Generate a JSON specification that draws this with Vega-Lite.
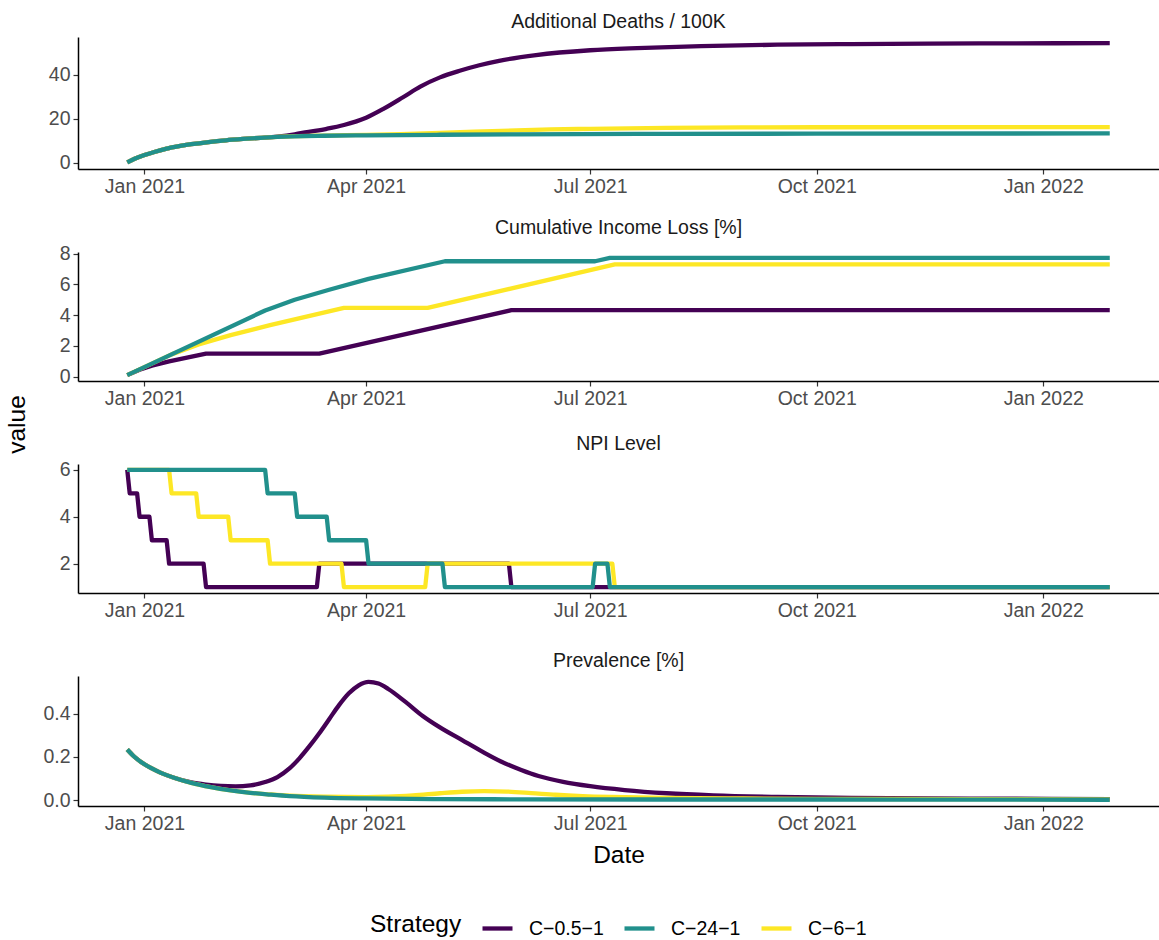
{
  "$schema": "https://vega.github.io/schema/vega-lite/v6.json",
  "padding": {"left": 4, "top": 11, "right": 0, "bottom": 0},
  "datasets": {
    "d": [
      {"metric":"deaths","strategy":"C−0.5−1","date":"2020-12-25","value":0.3},
      {"metric":"deaths","strategy":"C−0.5−1","date":"2020-12-28","value":1.9},
      {"metric":"deaths","strategy":"C−0.5−1","date":"2021-01-01","value":3.6},
      {"metric":"deaths","strategy":"C−0.5−1","date":"2021-01-05","value":5.0},
      {"metric":"deaths","strategy":"C−0.5−1","date":"2021-01-10","value":6.5},
      {"metric":"deaths","strategy":"C−0.5−1","date":"2021-01-15","value":7.6},
      {"metric":"deaths","strategy":"C−0.5−1","date":"2021-01-20","value":8.5},
      {"metric":"deaths","strategy":"C−0.5−1","date":"2021-01-27","value":9.5},
      {"metric":"deaths","strategy":"C−0.5−1","date":"2021-02-03","value":10.3},
      {"metric":"deaths","strategy":"C−0.5−1","date":"2021-02-10","value":10.9},
      {"metric":"deaths","strategy":"C−0.5−1","date":"2021-02-17","value":11.4},
      {"metric":"deaths","strategy":"C−0.5−1","date":"2021-02-24","value":12.0},
      {"metric":"deaths","strategy":"C−0.5−1","date":"2021-03-03","value":13.0},
      {"metric":"deaths","strategy":"C−0.5−1","date":"2021-03-08","value":14.0},
      {"metric":"deaths","strategy":"C−0.5−1","date":"2021-03-16","value":15.5},
      {"metric":"deaths","strategy":"C−0.5−1","date":"2021-03-23","value":17.2},
      {"metric":"deaths","strategy":"C−0.5−1","date":"2021-04-01","value":20.5},
      {"metric":"deaths","strategy":"C−0.5−1","date":"2021-04-08","value":24.5},
      {"metric":"deaths","strategy":"C−0.5−1","date":"2021-04-16","value":29.8},
      {"metric":"deaths","strategy":"C−0.5−1","date":"2021-04-23","value":34.6},
      {"metric":"deaths","strategy":"C−0.5−1","date":"2021-05-01","value":38.8},
      {"metric":"deaths","strategy":"C−0.5−1","date":"2021-05-09","value":41.8},
      {"metric":"deaths","strategy":"C−0.5−1","date":"2021-05-17","value":44.3},
      {"metric":"deaths","strategy":"C−0.5−1","date":"2021-05-25","value":46.3},
      {"metric":"deaths","strategy":"C−0.5−1","date":"2021-06-09","value":48.9},
      {"metric":"deaths","strategy":"C−0.5−1","date":"2021-07-01","value":51.1},
      {"metric":"deaths","strategy":"C−0.5−1","date":"2021-07-20","value":52.1},
      {"metric":"deaths","strategy":"C−0.5−1","date":"2021-08-15","value":53.0},
      {"metric":"deaths","strategy":"C−0.5−1","date":"2021-09-15","value":53.6},
      {"metric":"deaths","strategy":"C−0.5−1","date":"2021-10-15","value":53.9},
      {"metric":"deaths","strategy":"C−0.5−1","date":"2021-11-15","value":54.1},
      {"metric":"deaths","strategy":"C−0.5−1","date":"2021-12-15","value":54.2},
      {"metric":"deaths","strategy":"C−0.5−1","date":"2022-01-28","value":54.3},

      {"metric":"deaths","strategy":"C−24−1","date":"2020-12-25","value":0.3},
      {"metric":"deaths","strategy":"C−24−1","date":"2020-12-28","value":1.9},
      {"metric":"deaths","strategy":"C−24−1","date":"2021-01-01","value":3.6},
      {"metric":"deaths","strategy":"C−24−1","date":"2021-01-05","value":5.0},
      {"metric":"deaths","strategy":"C−24−1","date":"2021-01-10","value":6.5},
      {"metric":"deaths","strategy":"C−24−1","date":"2021-01-15","value":7.6},
      {"metric":"deaths","strategy":"C−24−1","date":"2021-01-20","value":8.5},
      {"metric":"deaths","strategy":"C−24−1","date":"2021-01-27","value":9.5},
      {"metric":"deaths","strategy":"C−24−1","date":"2021-02-03","value":10.3},
      {"metric":"deaths","strategy":"C−24−1","date":"2021-02-10","value":10.9},
      {"metric":"deaths","strategy":"C−24−1","date":"2021-02-17","value":11.4},
      {"metric":"deaths","strategy":"C−24−1","date":"2021-02-24","value":11.8},
      {"metric":"deaths","strategy":"C−24−1","date":"2021-03-03","value":12.1},
      {"metric":"deaths","strategy":"C−24−1","date":"2021-03-15","value":12.35},
      {"metric":"deaths","strategy":"C−24−1","date":"2021-04-01","value":12.55},
      {"metric":"deaths","strategy":"C−24−1","date":"2021-05-01","value":12.8},
      {"metric":"deaths","strategy":"C−24−1","date":"2021-06-01","value":13.0},
      {"metric":"deaths","strategy":"C−24−1","date":"2021-08-01","value":13.2},
      {"metric":"deaths","strategy":"C−24−1","date":"2021-10-01","value":13.3},
      {"metric":"deaths","strategy":"C−24−1","date":"2022-01-28","value":13.4},

      {"metric":"deaths","strategy":"C−6−1","date":"2020-12-25","value":0.3},
      {"metric":"deaths","strategy":"C−6−1","date":"2020-12-28","value":1.9},
      {"metric":"deaths","strategy":"C−6−1","date":"2021-01-01","value":3.6},
      {"metric":"deaths","strategy":"C−6−1","date":"2021-01-05","value":5.0},
      {"metric":"deaths","strategy":"C−6−1","date":"2021-01-10","value":6.5},
      {"metric":"deaths","strategy":"C−6−1","date":"2021-01-15","value":7.6},
      {"metric":"deaths","strategy":"C−6−1","date":"2021-01-20","value":8.5},
      {"metric":"deaths","strategy":"C−6−1","date":"2021-01-27","value":9.5},
      {"metric":"deaths","strategy":"C−6−1","date":"2021-02-03","value":10.3},
      {"metric":"deaths","strategy":"C−6−1","date":"2021-02-10","value":10.9},
      {"metric":"deaths","strategy":"C−6−1","date":"2021-02-17","value":11.4},
      {"metric":"deaths","strategy":"C−6−1","date":"2021-02-24","value":11.8},
      {"metric":"deaths","strategy":"C−6−1","date":"2021-03-03","value":12.15},
      {"metric":"deaths","strategy":"C−6−1","date":"2021-03-15","value":12.45},
      {"metric":"deaths","strategy":"C−6−1","date":"2021-04-01","value":12.75},
      {"metric":"deaths","strategy":"C−6−1","date":"2021-04-15","value":13.1},
      {"metric":"deaths","strategy":"C−6−1","date":"2021-05-01","value":13.6},
      {"metric":"deaths","strategy":"C−6−1","date":"2021-05-15","value":14.2},
      {"metric":"deaths","strategy":"C−6−1","date":"2021-06-01","value":14.8},
      {"metric":"deaths","strategy":"C−6−1","date":"2021-06-15","value":15.2},
      {"metric":"deaths","strategy":"C−6−1","date":"2021-07-01","value":15.5},
      {"metric":"deaths","strategy":"C−6−1","date":"2021-08-01","value":15.9},
      {"metric":"deaths","strategy":"C−6−1","date":"2021-09-01","value":16.1},
      {"metric":"deaths","strategy":"C−6−1","date":"2021-10-01","value":16.2},
      {"metric":"deaths","strategy":"C−6−1","date":"2022-01-28","value":16.3},

      {"metric":"income","strategy":"C−0.5−1","date":"2020-12-25","value":0.1},
      {"metric":"income","strategy":"C−0.5−1","date":"2020-12-30","value":0.45},
      {"metric":"income","strategy":"C−0.5−1","date":"2021-01-04","value":0.72},
      {"metric":"income","strategy":"C−0.5−1","date":"2021-01-11","value":1.0},
      {"metric":"income","strategy":"C−0.5−1","date":"2021-01-26","value":1.5},
      {"metric":"income","strategy":"C−0.5−1","date":"2021-03-13","value":1.5},
      {"metric":"income","strategy":"C−0.5−1","date":"2021-05-30","value":4.32},
      {"metric":"income","strategy":"C−0.5−1","date":"2022-01-28","value":4.32},

      {"metric":"income","strategy":"C−24−1","date":"2020-12-25","value":0.1},
      {"metric":"income","strategy":"C−24−1","date":"2021-02-19","value":4.3},
      {"metric":"income","strategy":"C−24−1","date":"2021-03-03","value":5.0},
      {"metric":"income","strategy":"C−24−1","date":"2021-03-17","value":5.65},
      {"metric":"income","strategy":"C−24−1","date":"2021-04-02","value":6.35},
      {"metric":"income","strategy":"C−24−1","date":"2021-05-03","value":7.5},
      {"metric":"income","strategy":"C−24−1","date":"2021-07-03","value":7.5},
      {"metric":"income","strategy":"C−24−1","date":"2021-07-09","value":7.72},
      {"metric":"income","strategy":"C−24−1","date":"2022-01-28","value":7.72},

      {"metric":"income","strategy":"C−6−1","date":"2020-12-25","value":0.1},
      {"metric":"income","strategy":"C−6−1","date":"2021-01-12","value":1.45},
      {"metric":"income","strategy":"C−6−1","date":"2021-01-23","value":2.1},
      {"metric":"income","strategy":"C−6−1","date":"2021-02-05","value":2.7},
      {"metric":"income","strategy":"C−6−1","date":"2021-02-21","value":3.35},
      {"metric":"income","strategy":"C−6−1","date":"2021-03-23","value":4.47},
      {"metric":"income","strategy":"C−6−1","date":"2021-04-26","value":4.47},
      {"metric":"income","strategy":"C−6−1","date":"2021-07-11","value":7.3},
      {"metric":"income","strategy":"C−6−1","date":"2022-01-28","value":7.3},

      {"metric":"npi","strategy":"C−0.5−1","date":"2020-12-25","value":6},
      {"metric":"npi","strategy":"C−0.5−1","date":"2020-12-26","value":5},
      {"metric":"npi","strategy":"C−0.5−1","date":"2020-12-29","value":5},
      {"metric":"npi","strategy":"C−0.5−1","date":"2020-12-30","value":4},
      {"metric":"npi","strategy":"C−0.5−1","date":"2021-01-03","value":4},
      {"metric":"npi","strategy":"C−0.5−1","date":"2021-01-04","value":3},
      {"metric":"npi","strategy":"C−0.5−1","date":"2021-01-10","value":3},
      {"metric":"npi","strategy":"C−0.5−1","date":"2021-01-11","value":2},
      {"metric":"npi","strategy":"C−0.5−1","date":"2021-01-25","value":2},
      {"metric":"npi","strategy":"C−0.5−1","date":"2021-01-26","value":1},
      {"metric":"npi","strategy":"C−0.5−1","date":"2021-03-12","value":1},
      {"metric":"npi","strategy":"C−0.5−1","date":"2021-03-13","value":2},
      {"metric":"npi","strategy":"C−0.5−1","date":"2021-05-29","value":2},
      {"metric":"npi","strategy":"C−0.5−1","date":"2021-05-30","value":1},
      {"metric":"npi","strategy":"C−0.5−1","date":"2022-01-28","value":1},

      {"metric":"npi","strategy":"C−24−1","date":"2020-12-25","value":6},
      {"metric":"npi","strategy":"C−24−1","date":"2021-02-19","value":6},
      {"metric":"npi","strategy":"C−24−1","date":"2021-02-20","value":5},
      {"metric":"npi","strategy":"C−24−1","date":"2021-03-03","value":5},
      {"metric":"npi","strategy":"C−24−1","date":"2021-03-04","value":4},
      {"metric":"npi","strategy":"C−24−1","date":"2021-03-16","value":4},
      {"metric":"npi","strategy":"C−24−1","date":"2021-03-17","value":3},
      {"metric":"npi","strategy":"C−24−1","date":"2021-04-01","value":3},
      {"metric":"npi","strategy":"C−24−1","date":"2021-04-02","value":2},
      {"metric":"npi","strategy":"C−24−1","date":"2021-05-02","value":2},
      {"metric":"npi","strategy":"C−24−1","date":"2021-05-03","value":1},
      {"metric":"npi","strategy":"C−24−1","date":"2021-07-02","value":1},
      {"metric":"npi","strategy":"C−24−1","date":"2021-07-03","value":2},
      {"metric":"npi","strategy":"C−24−1","date":"2021-07-08","value":2},
      {"metric":"npi","strategy":"C−24−1","date":"2021-07-09","value":1},
      {"metric":"npi","strategy":"C−24−1","date":"2022-01-28","value":1},

      {"metric":"npi","strategy":"C−6−1","date":"2020-12-25","value":6},
      {"metric":"npi","strategy":"C−6−1","date":"2021-01-11","value":6},
      {"metric":"npi","strategy":"C−6−1","date":"2021-01-12","value":5},
      {"metric":"npi","strategy":"C−6−1","date":"2021-01-22","value":5},
      {"metric":"npi","strategy":"C−6−1","date":"2021-01-23","value":4},
      {"metric":"npi","strategy":"C−6−1","date":"2021-02-04","value":4},
      {"metric":"npi","strategy":"C−6−1","date":"2021-02-05","value":3},
      {"metric":"npi","strategy":"C−6−1","date":"2021-02-20","value":3},
      {"metric":"npi","strategy":"C−6−1","date":"2021-02-21","value":2},
      {"metric":"npi","strategy":"C−6−1","date":"2021-03-22","value":2},
      {"metric":"npi","strategy":"C−6−1","date":"2021-03-23","value":1},
      {"metric":"npi","strategy":"C−6−1","date":"2021-04-25","value":1},
      {"metric":"npi","strategy":"C−6−1","date":"2021-04-26","value":2},
      {"metric":"npi","strategy":"C−6−1","date":"2021-07-10","value":2},
      {"metric":"npi","strategy":"C−6−1","date":"2021-07-11","value":1},
      {"metric":"npi","strategy":"C−6−1","date":"2022-01-28","value":1},

      {"metric":"prev","strategy":"C−0.5−1","date":"2020-12-25","value":0.235},
      {"metric":"prev","strategy":"C−0.5−1","date":"2020-12-28","value":0.2},
      {"metric":"prev","strategy":"C−0.5−1","date":"2021-01-01","value":0.166},
      {"metric":"prev","strategy":"C−0.5−1","date":"2021-01-07","value":0.13},
      {"metric":"prev","strategy":"C−0.5−1","date":"2021-01-13","value":0.104},
      {"metric":"prev","strategy":"C−0.5−1","date":"2021-01-20","value":0.082},
      {"metric":"prev","strategy":"C−0.5−1","date":"2021-01-26","value":0.072},
      {"metric":"prev","strategy":"C−0.5−1","date":"2021-02-01","value":0.066},
      {"metric":"prev","strategy":"C−0.5−1","date":"2021-02-07","value":0.064},
      {"metric":"prev","strategy":"C−0.5−1","date":"2021-02-13","value":0.068},
      {"metric":"prev","strategy":"C−0.5−1","date":"2021-02-19","value":0.084},
      {"metric":"prev","strategy":"C−0.5−1","date":"2021-02-24","value":0.107},
      {"metric":"prev","strategy":"C−0.5−1","date":"2021-03-01","value":0.148},
      {"metric":"prev","strategy":"C−0.5−1","date":"2021-03-05","value":0.195},
      {"metric":"prev","strategy":"C−0.5−1","date":"2021-03-09","value":0.25},
      {"metric":"prev","strategy":"C−0.5−1","date":"2021-03-13","value":0.31},
      {"metric":"prev","strategy":"C−0.5−1","date":"2021-03-17","value":0.375},
      {"metric":"prev","strategy":"C−0.5−1","date":"2021-03-21","value":0.44},
      {"metric":"prev","strategy":"C−0.5−1","date":"2021-03-25","value":0.495},
      {"metric":"prev","strategy":"C−0.5−1","date":"2021-03-29","value":0.532},
      {"metric":"prev","strategy":"C−0.5−1","date":"2021-04-02","value":0.548},
      {"metric":"prev","strategy":"C−0.5−1","date":"2021-04-06","value":0.54},
      {"metric":"prev","strategy":"C−0.5−1","date":"2021-04-10","value":0.515},
      {"metric":"prev","strategy":"C−0.5−1","date":"2021-04-17","value":0.455},
      {"metric":"prev","strategy":"C−0.5−1","date":"2021-04-24","value":0.39},
      {"metric":"prev","strategy":"C−0.5−1","date":"2021-05-01","value":0.337},
      {"metric":"prev","strategy":"C−0.5−1","date":"2021-05-10","value":0.278},
      {"metric":"prev","strategy":"C−0.5−1","date":"2021-05-18","value":0.226},
      {"metric":"prev","strategy":"C−0.5−1","date":"2021-05-26","value":0.178},
      {"metric":"prev","strategy":"C−0.5−1","date":"2021-06-03","value":0.14},
      {"metric":"prev","strategy":"C−0.5−1","date":"2021-06-10","value":0.112},
      {"metric":"prev","strategy":"C−0.5−1","date":"2021-06-20","value":0.085},
      {"metric":"prev","strategy":"C−0.5−1","date":"2021-07-01","value":0.065},
      {"metric":"prev","strategy":"C−0.5−1","date":"2021-07-15","value":0.047},
      {"metric":"prev","strategy":"C−0.5−1","date":"2021-08-01","value":0.032},
      {"metric":"prev","strategy":"C−0.5−1","date":"2021-08-20","value":0.022},
      {"metric":"prev","strategy":"C−0.5−1","date":"2021-09-15","value":0.015},
      {"metric":"prev","strategy":"C−0.5−1","date":"2021-10-15","value":0.011},
      {"metric":"prev","strategy":"C−0.5−1","date":"2021-11-15","value":0.008},
      {"metric":"prev","strategy":"C−0.5−1","date":"2021-12-15","value":0.007},
      {"metric":"prev","strategy":"C−0.5−1","date":"2022-01-28","value":0.005},

      {"metric":"prev","strategy":"C−24−1","date":"2020-12-25","value":0.235},
      {"metric":"prev","strategy":"C−24−1","date":"2020-12-28","value":0.2},
      {"metric":"prev","strategy":"C−24−1","date":"2021-01-01","value":0.166},
      {"metric":"prev","strategy":"C−24−1","date":"2021-01-07","value":0.13},
      {"metric":"prev","strategy":"C−24−1","date":"2021-01-13","value":0.104},
      {"metric":"prev","strategy":"C−24−1","date":"2021-01-20","value":0.08},
      {"metric":"prev","strategy":"C−24−1","date":"2021-01-28","value":0.06},
      {"metric":"prev","strategy":"C−24−1","date":"2021-02-05","value":0.045},
      {"metric":"prev","strategy":"C−24−1","date":"2021-02-13","value":0.034},
      {"metric":"prev","strategy":"C−24−1","date":"2021-02-21","value":0.026},
      {"metric":"prev","strategy":"C−24−1","date":"2021-03-01","value":0.019},
      {"metric":"prev","strategy":"C−24−1","date":"2021-03-15","value":0.012},
      {"metric":"prev","strategy":"C−24−1","date":"2021-04-01","value":0.008},
      {"metric":"prev","strategy":"C−24−1","date":"2021-05-01","value":0.005},
      {"metric":"prev","strategy":"C−24−1","date":"2021-06-01","value":0.004},
      {"metric":"prev","strategy":"C−24−1","date":"2021-08-01","value":0.003},
      {"metric":"prev","strategy":"C−24−1","date":"2021-10-01","value":0.003},
      {"metric":"prev","strategy":"C−24−1","date":"2022-01-28","value":0.002},

      {"metric":"prev","strategy":"C−6−1","date":"2020-12-25","value":0.235},
      {"metric":"prev","strategy":"C−6−1","date":"2020-12-28","value":0.2},
      {"metric":"prev","strategy":"C−6−1","date":"2021-01-01","value":0.166},
      {"metric":"prev","strategy":"C−6−1","date":"2021-01-07","value":0.13},
      {"metric":"prev","strategy":"C−6−1","date":"2021-01-13","value":0.104},
      {"metric":"prev","strategy":"C−6−1","date":"2021-01-20","value":0.08},
      {"metric":"prev","strategy":"C−6−1","date":"2021-01-28","value":0.06},
      {"metric":"prev","strategy":"C−6−1","date":"2021-02-05","value":0.045},
      {"metric":"prev","strategy":"C−6−1","date":"2021-02-13","value":0.034},
      {"metric":"prev","strategy":"C−6−1","date":"2021-02-21","value":0.027},
      {"metric":"prev","strategy":"C−6−1","date":"2021-03-01","value":0.021},
      {"metric":"prev","strategy":"C−6−1","date":"2021-03-15","value":0.016},
      {"metric":"prev","strategy":"C−6−1","date":"2021-04-01","value":0.014},
      {"metric":"prev","strategy":"C−6−1","date":"2021-04-10","value":0.016},
      {"metric":"prev","strategy":"C−6−1","date":"2021-04-20","value":0.022},
      {"metric":"prev","strategy":"C−6−1","date":"2021-05-01","value":0.032},
      {"metric":"prev","strategy":"C−6−1","date":"2021-05-10","value":0.039},
      {"metric":"prev","strategy":"C−6−1","date":"2021-05-19","value":0.042},
      {"metric":"prev","strategy":"C−6−1","date":"2021-05-28","value":0.04},
      {"metric":"prev","strategy":"C−6−1","date":"2021-06-07","value":0.033},
      {"metric":"prev","strategy":"C−6−1","date":"2021-06-17","value":0.025},
      {"metric":"prev","strategy":"C−6−1","date":"2021-06-28","value":0.019},
      {"metric":"prev","strategy":"C−6−1","date":"2021-07-10","value":0.015},
      {"metric":"prev","strategy":"C−6−1","date":"2021-08-01","value":0.011},
      {"metric":"prev","strategy":"C−6−1","date":"2021-09-01","value":0.008},
      {"metric":"prev","strategy":"C−6−1","date":"2021-10-01","value":0.006},
      {"metric":"prev","strategy":"C−6−1","date":"2021-12-01","value":0.005},
      {"metric":"prev","strategy":"C−6−1","date":"2022-01-28","value":0.004}
    ]
  },
  "config": {
    "font": "Liberation Sans",
    "view": {"stroke": null},
    "axis": {
      "grid": false,
      "domainColor": "#000000",
      "domainWidth": 1.5,
      "tickColor": "#333333",
      "tickSize": 5,
      "tickWidth": 1.2,
      "labelColor": "#4D4D4D",
      "labelFontSize": 19.5,
      "labelPadding": 3,
      "titleFontWeight": "normal",
      "titleFontSize": 24.5,
      "titleColor": "#000000"
    },
    "title": {"fontSize": 19.5, "fontWeight": "normal", "color": "#1A1A1A", "offset": 5, "anchor": "middle", "frame": "group"},
    "legend": {
      "orient": "bottom",
      "direction": "horizontal",
      "titleOrient": "left",
      "titleFontSize": 24.5,
      "titleFontWeight": "normal",
      "titleColor": "#000000",
      "labelFontSize": 19.5,
      "labelColor": "#000000",
      "symbolType": "stroke",
      "symbolSize": 900,
      "symbolStrokeWidth": 4,
      "columnPadding": 18,
      "labelOffset": 14,
      "titlePadding": 18,
      "offset": 44,
      "layout": {"bottom": {"anchor": "middle"}}
    },
    "line": {"strokeWidth": 4.3, "strokeJoin": "round"}
  },
  "bounds": "flush",
  "spacing": 83,
  "resolve": {"scale": {"x": "independent", "y": "independent", "color": "shared"}},
  "vconcat": [
    {
      "title": {"text": "Additional Deaths / 100K"},
      "width": 1081, "height": 132,
      "data": {"name": "d"},
      "transform": [{"filter": {"field": "metric", "equal": "deaths"}}],
      "encoding": {
        "x": {"field": "date", "type": "temporal", "scale": {"domain": [{"year": 2020, "month": 12, "date": 5}, {"year": 2022, "month": 2, "date": 17}]},
              "axis": {"title": null, "format": "%b %Y", "labelFlush": false, "values": [{"year": 2021, "month": 1, "date": 1}, {"year": 2021, "month": 4, "date": 1}, {"year": 2021, "month": 7, "date": 1}, {"year": 2021, "month": 10, "date": 1}, {"year": 2022, "month": 1, "date": 1}]}},
        "y": {"field": "value", "type": "quantitative", "scale": {"domain": [-2.72, 57.1], "nice": false, "zero": false}, "axis": {"title": null, "values": [0, 20, 40]}},
        "color": {"field": "strategy", "type": "nominal", "title": "Strategy", "scale": {"domain": ["C−0.5−1", "C−24−1", "C−6−1"], "range": ["#440154", "#21908C", "#FDE725"]}}
      },
      "layer": [
        {"transform": [{"filter": {"field": "strategy", "equal": "C−0.5−1"}}], "mark": {"type": "line", "interpolate": "monotone"}},
        {"transform": [{"filter": {"field": "strategy", "equal": "C−6−1"}}], "mark": {"type": "line", "interpolate": "monotone"}},
        {"transform": [{"filter": {"field": "strategy", "equal": "C−24−1"}}], "mark": {"type": "line", "interpolate": "monotone"}}
      ]
    },
    {
      "title": {"text": "Cumulative Income Loss [%]"},
      "width": 1081, "height": 129,
      "data": {"name": "d"},
      "transform": [{"filter": {"field": "metric", "equal": "income"}}],
      "encoding": {
        "x": {"field": "date", "type": "temporal", "scale": {"domain": [{"year": 2020, "month": 12, "date": 5}, {"year": 2022, "month": 2, "date": 17}]},
              "axis": {"title": null, "format": "%b %Y", "labelFlush": false, "values": [{"year": 2021, "month": 1, "date": 1}, {"year": 2021, "month": 4, "date": 1}, {"year": 2021, "month": 7, "date": 1}, {"year": 2021, "month": 10, "date": 1}, {"year": 2022, "month": 1, "date": 1}]}},
        "y": {"field": "value", "type": "quantitative", "scale": {"domain": [-0.28, 8.1], "nice": false, "zero": false}, "axis": {"title": "value", "titleX": -49, "titleY": 172, "values": [0, 2, 4, 6, 8]}},
        "color": {"field": "strategy", "type": "nominal", "title": "Strategy", "scale": {"domain": ["C−0.5−1", "C−24−1", "C−6−1"], "range": ["#440154", "#21908C", "#FDE725"]}}
      },
      "layer": [
        {"transform": [{"filter": {"field": "strategy", "equal": "C−0.5−1"}}], "mark": {"type": "line"}},
        {"transform": [{"filter": {"field": "strategy", "equal": "C−6−1"}}], "mark": {"type": "line"}},
        {"transform": [{"filter": {"field": "strategy", "equal": "C−24−1"}}], "mark": {"type": "line"}}
      ]
    },
    {
      "title": {"text": "NPI Level"},
      "width": 1081, "height": 129,
      "data": {"name": "d"},
      "transform": [{"filter": {"field": "metric", "equal": "npi"}}],
      "encoding": {
        "x": {"field": "date", "type": "temporal", "scale": {"domain": [{"year": 2020, "month": 12, "date": 5}, {"year": 2022, "month": 2, "date": 17}]},
              "axis": {"title": null, "format": "%b %Y", "labelFlush": false, "values": [{"year": 2021, "month": 1, "date": 1}, {"year": 2021, "month": 4, "date": 1}, {"year": 2021, "month": 7, "date": 1}, {"year": 2021, "month": 10, "date": 1}, {"year": 2022, "month": 1, "date": 1}]}},
        "y": {"field": "value", "type": "quantitative", "scale": {"domain": [0.75, 6.25], "nice": false, "zero": false}, "axis": {"title": null, "values": [2, 4, 6]}},
        "color": {"field": "strategy", "type": "nominal", "title": "Strategy", "scale": {"domain": ["C−0.5−1", "C−24−1", "C−6−1"], "range": ["#440154", "#21908C", "#FDE725"]}}
      },
      "layer": [
        {"transform": [{"filter": {"field": "strategy", "equal": "C−0.5−1"}}], "mark": {"type": "line"}},
        {"transform": [{"filter": {"field": "strategy", "equal": "C−6−1"}}], "mark": {"type": "line"}},
        {"transform": [{"filter": {"field": "strategy", "equal": "C−24−1"}}], "mark": {"type": "line"}}
      ]
    },
    {
      "title": {"text": "Prevalence [%]"},
      "width": 1081, "height": 130,
      "data": {"name": "d"},
      "transform": [{"filter": {"field": "metric", "equal": "prev"}}],
      "encoding": {
        "x": {"field": "date", "type": "temporal", "scale": {"domain": [{"year": 2020, "month": 12, "date": 5}, {"year": 2022, "month": 2, "date": 17}]},
              "axis": {"title": "Date", "titlePadding": 11, "format": "%b %Y", "labelFlush": false, "values": [{"year": 2021, "month": 1, "date": 1}, {"year": 2021, "month": 4, "date": 1}, {"year": 2021, "month": 7, "date": 1}, {"year": 2021, "month": 10, "date": 1}, {"year": 2022, "month": 1, "date": 1}]}},
        "y": {"field": "value", "type": "quantitative", "scale": {"domain": [-0.027, 0.575], "nice": false, "zero": false}, "axis": {"title": null, "format": ".1f", "values": [0, 0.2, 0.4]}},
        "color": {"field": "strategy", "type": "nominal", "title": "Strategy", "scale": {"domain": ["C−0.5−1", "C−24−1", "C−6−1"], "range": ["#440154", "#21908C", "#FDE725"]}}
      },
      "layer": [
        {"transform": [{"filter": {"field": "strategy", "equal": "C−0.5−1"}}], "mark": {"type": "line", "interpolate": "monotone"}},
        {"transform": [{"filter": {"field": "strategy", "equal": "C−6−1"}}], "mark": {"type": "line", "interpolate": "monotone"}},
        {"transform": [{"filter": {"field": "strategy", "equal": "C−24−1"}}], "mark": {"type": "line", "interpolate": "monotone"}}
      ]
    }
  ]
}
